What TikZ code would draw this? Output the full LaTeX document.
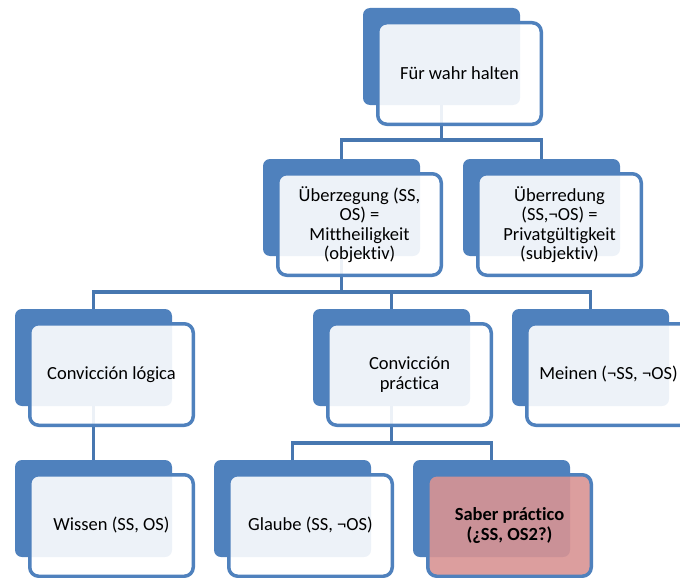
\documentclass[tikz,border=0pt]{standalone}
\usepackage{fontspec}
\setmainfont[Ligatures={NoCommon}]{Carlito}
\usetikzlibrary{calc}
\definecolor{cblue}{HTML}{4F81BD}
\definecolor{cline}{HTML}{4777B0}
\definecolor{cpink}{HTML}{D89393}
\begin{document}
\begin{tikzpicture}[x=1pt,y=-1pt,
  back/.style={fill=cblue, rounded corners=7pt, minimum width=157pt, minimum height=97pt,
    anchor=north west, inner sep=0pt, outer sep=0pt},
  front/.style={draw=cblue, line width=3.5pt, fill=white, fill opacity=0.9, text opacity=1,
    rounded corners=9pt, minimum width=163.5pt, minimum height=101.5pt, anchor=north west,
    inner sep=0pt, outer sep=0pt, align=center, text=black,
    font=\fontsize{18.5}{19.5}\selectfont},
  link/.style={draw=cline, line width=3.2pt}]
\clip (0,0) rectangle (680,578);
% back boxes
\node[back] (b1) at (363,8) {};
\node[back] (b2a) at (263,159) {};
\node[back] (b2b) at (463,159) {};
\node[back] (b3a) at (15,309) {};
\node[back] (b3b) at (313,309) {};
\node[back] (b3c) at (512,309) {};
\node[back] (b4a) at (15,460) {};
\node[back] (b4b) at (214,460) {};
\node[back] (b4c) at (413,460) {};
% connectors
\coordinate (y1) at (0,140);
\coordinate (y2) at (0,292);
\coordinate (y3) at (0,443);
\draw[link] (b1.south) -- (b1.south |- y1);
\draw[link] (b2a.north) -- (b2a.north |- y1) -- (b2b.north |- y1) -- (b2b.north);
\draw[link] (b2a.south) -- (b2a.south |- y2);
\draw[link] (b3a.north) -- (b3a.north |- y2) -- (b3c.north |- y2) -- (b3c.north);
\draw[link] (b3b.north) -- (b3b.north |- y2);
\draw[link] (b3b.south) -- (b3b.south |- y3);
\draw[link] (b4b.north) -- (b4b.north |- y3) -- (b4c.north |- y3) -- (b4c.north);
\draw[link] (b3a.south) -- (b4a.north);
% front boxes
\node[front] (f1) at ($(b1.north west)+(14.75,14.75)$) {Für wahr halten};
\node[front] (f2a) at ($(b2a.north west)+(14.75,14.75)$) {Überzegung (SS,\\OS) =\\Mittheiligkeit\\(objektiv)};
\node[front] (f2b) at ($(b2b.north west)+(14.75,14.75)$) {Überredung\\(SS,¬OS) =\\Privatgültigkeit\\(subjektiv)};
\node[front] (f3a) at ($(b3a.north west)+(14.75,14.75)$) {Convicción lógica};
\node[front] (f3b) at ($(b3b.north west)+(14.75,14.75)$) {Convicción\\práctica};
\node[front] (f3c) at ($(b3c.north west)+(14.75,14.75)$) {Meinen (¬SS, ¬OS)};
\node[front] (f4a) at ($(b4a.north west)+(14.75,14.75)$) {Wissen (SS, OS)};
\node[front] (f4b) at ($(b4b.north west)+(14.75,14.75)$) {Glaube (SS, ¬OS)};
\node[front, fill=cpink, font=\fontsize{18.5}{19.5}\selectfont\bfseries] (f4c) at ($(b4c.north west)+(14.75,14.75)$) {Saber práctico\\(¿SS, OS2?)};
\end{tikzpicture}
\end{document}
